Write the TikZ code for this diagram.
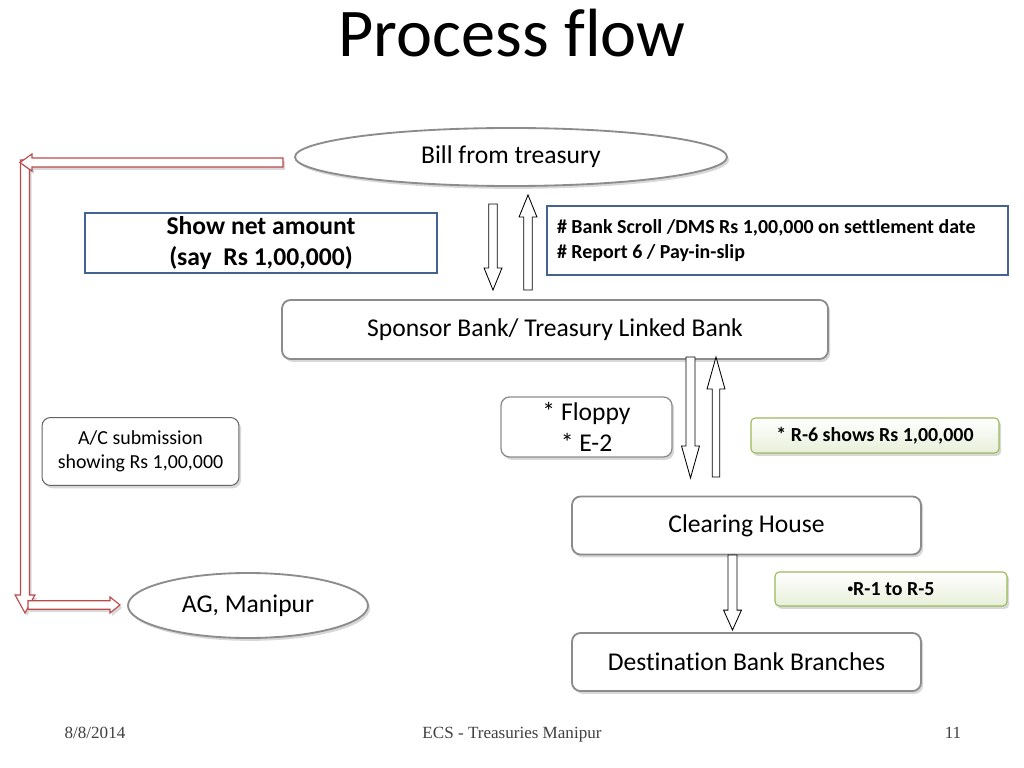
\documentclass[tikz,border=0pt]{standalone}
\usepackage{fontspec}
\setmainfont{Carlito}[Ligatures=NoCommon]
\newfontfamily\footfont{Liberation Serif}
\usetikzlibrary{shapes.geometric,shadows,calc}

\definecolor{boxgray}{RGB}{140,140,140}
\definecolor{boxdark}{RGB}{100,100,100}
\definecolor{boxblue}{RGB}{68,99,145}
\definecolor{boxgreen}{RGB}{155,187,89}
\definecolor{greenfill}{RGB}{232,239,218}
\definecolor{arrowred}{RGB}{185,75,75}

% block arrow: [style]{from}{to}{head length}{shaft half width}{head half width}
\newcommand{\blockarrow}[6][]{%
  \coordinate (ba-neck) at ($(#3)!#4!(#2)$);
  \draw[#1] ($(#2)!#5!90:(#3)$) -- ($(ba-neck)!#5!90:(#3)$) -- ($(ba-neck)!#6!90:(#3)$)
    -- (#3) -- ($(ba-neck)!#6!-90:(#3)$) -- ($(ba-neck)!#5!-90:(#3)$) -- ($(#2)!#5!-90:(#3)$) -- cycle;}

\tikzset{
  softshadow/.style={drop shadow={shadow xshift=1.5pt, shadow yshift=-2pt, opacity=0.3}},
  bigbox/.style={draw=boxgray, line width=1.3pt, rounded corners=6pt, fill=white, softshadow,
    font=\fontsize{18}{22}\selectfont, align=center, inner sep=0pt},
  smallbox/.style={draw=boxdark, line width=0.7pt, rounded corners=6pt, fill=white, softshadow,
    font=\fontsize{14}{17}\selectfont, align=center, inner sep=0pt},
  oval/.style={ellipse, draw=boxgray, line width=1.3pt, fill=white, softshadow,
    font=\fontsize{18}{22}\selectfont, inner sep=0pt},
  bluebox/.style={draw=boxblue, line width=1.6pt, fill=white, inner sep=0pt},
  notebox/.style={draw=boxgreen, line width=0.8pt, rounded corners=3pt, top color=white,
    bottom color=greenfill, softshadow, font=\fontsize{14}{17}\selectfont\bfseries, inner sep=0pt},
  flowarrow/.style={draw=black, line width=0.6pt, fill=white},
  looparrow/.style={draw=arrowred, line width=0.8pt, fill=white, softshadow},
  footer/.style={font=\footfont\fontsize{12}{14}\selectfont, text=black!75, anchor=base}
}

\begin{document}
\begin{tikzpicture}[x=0.703125pt, y=-0.703125pt]
  \useasboundingbox[fill=white] (0,0) rectangle (1024,768);

  \node[anchor=base, font=\fontsize{48}{56}\selectfont] (title) at (512,57) {Process flow};

  % boxes
  \node[oval, minimum width=303.75pt, minimum height=40.8pt] (bill) at (511,157) {Bill from treasury};
  \node[bluebox, minimum width=247.5pt, minimum height=42.2pt, align=center,
    font=\fontsize{18}{22}\selectfont\bfseries] (netamt) at (261,243) {Show net amount\\(say~ Rs 1,00,000)};
  \node[bluebox, minimum width=324.1pt, minimum height=48.5pt, text width=310pt, inner sep=7pt,
    align=flush left, font=\fontsize{14}{17}\selectfont\bfseries] (scroll) at (777.5,240.5)
    {\# Bank Scroll /DMS Rs 1,00,000 on settlement date\\\# Report 6 / Pay-in-slip};
  \node[bigbox, minimum width=383.9pt, minimum height=41.5pt] (sponsor) at (555,329.5) {Sponsor Bank/ Treasury Linked Bank};
  \node[bigbox, line width=0.9pt, minimum width=120.2pt, minimum height=42.2pt] (floppy) at (586.5,427) {* Floppy\\* E-2};
  \node[notebox, minimum width=174.4pt, minimum height=24.6pt] (rsix) at (875,435.5) {* R-6 shows Rs 1,00,000};
  \node[smallbox, minimum width=138.5pt, minimum height=47.8pt] (acsub) at (140.5,451.5) {A/C submission\\showing Rs 1,00,000};
  \node[bigbox, minimum width=245.4pt, minimum height=40.8pt] (clearing) at (746.5,525.5) {Clearing House};
  \node[notebox, minimum width=163.1pt, minimum height=23.9pt] (rone) at (891,589)
    {{\fontsize{8}{8}\selectfont\raisebox{1.8pt}{\textbullet}}R-1 to R-5};
  \node[bigbox, minimum width=245.4pt, minimum height=40.8pt] (dest) at (746.5,662) {Destination Bank Branches};
  \node[oval, minimum width=168.75pt, minimum height=45.7pt] (ag) at (248,605.5) {AG, Manipur};

  % arrow ends
  \coordinate (billout) at (493,204);
  \coordinate (sponsorin) at (493,290);
  \coordinate (sponsorout) at (528,290);
  \coordinate (billin) at (528,195);
  \coordinate (sendtop) at (690.5,357);
  \coordinate (sendbot) at (690.5,478);
  \coordinate (backbot) at (716,477);
  \coordinate (backtop) at (716,357);
  \coordinate (clearout) at (732.5,555);
  \coordinate (destin) at (732.5,630);
  \coordinate (looptail) at (283,162.5);
  \coordinate (looptip) at (20,162.5);
  \coordinate (loopdowntop) at (25,160);
  \coordinate (loopdownbot) at (25,613);
  \coordinate (agtail) at (28,605);
  \coordinate (agtip) at (120,605);

  \blockarrow[flowarrow]{billout}{sponsorin}{15.5pt}{3pt}{6.3pt}
  \blockarrow[flowarrow]{sponsorout}{billin}{15.5pt}{3pt}{6.3pt}
  \blockarrow[flowarrow]{sendtop}{sendbot}{22.5pt}{3.2pt}{6.3pt}
  \blockarrow[flowarrow]{backbot}{backtop}{22.5pt}{2.6pt}{6.3pt}
  \blockarrow[flowarrow]{clearout}{destin}{14pt}{3.2pt}{6.3pt}

  % return loop to AG
  \blockarrow[looparrow]{loopdowntop}{loopdownbot}{12.7pt}{3.2pt}{7pt}
  \blockarrow[looparrow]{looptail}{looptip}{8.4pt}{3.2pt}{6pt}
  \blockarrow[looparrow]{agtail}{agtip}{7pt}{3pt}{5.6pt}

  % footer
  \node[footer] (date) at (95,738) {8/8/2014};
  \node[footer] (foottitle) at (512,738) {ECS - Treasuries Manipur};
  \node[footer] (page) at (953,738) {11};
\end{tikzpicture}
\end{document}
